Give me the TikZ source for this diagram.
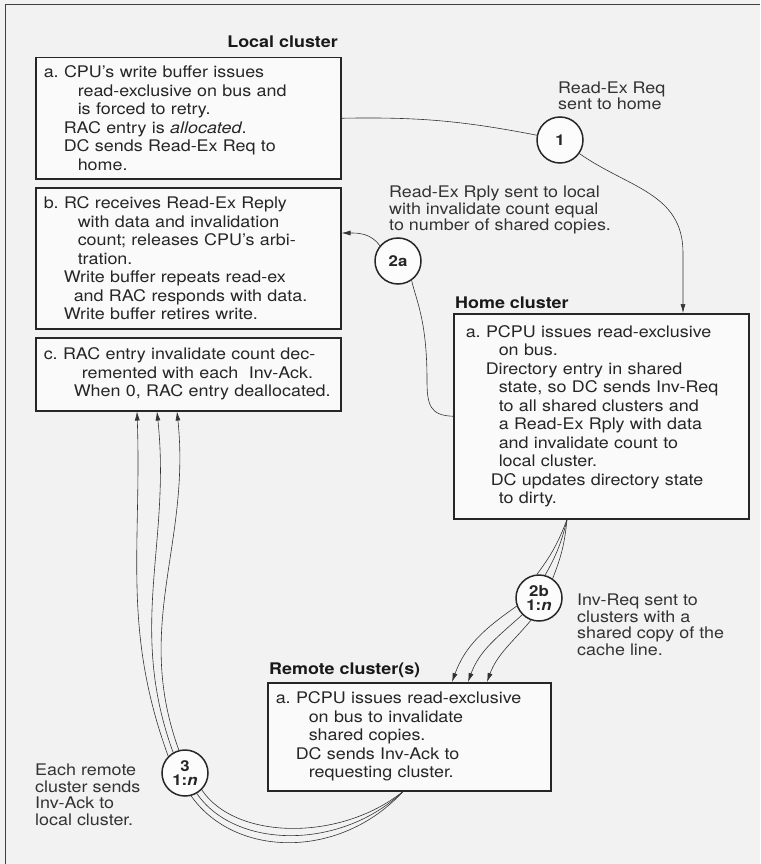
\documentclass[tikz,border=0pt]{standalone}
\usepackage{fontspec}
\setmainfont{TeX Gyre Heros}[FakeStretch=1.12]
\usetikzlibrary{arrows.meta,calc,positioning}

% indents inside the cluster boxes
\newcommand{\subind}{\hspace*{20pt}}
\newcommand{\contind}{\hspace*{34pt}}

\tikzset{
  cluster/.style={draw=black!85, line width=1.5pt, fill=gray!4, anchor=north west,
    align=left, inner xsep=8pt, inner ysep=0pt, text=black!85,
    font=\fontsize{16}{18.5}\selectfont},
  cltitle/.style={inner sep=0pt, text=black!90, font=\fontsize{16}{18.5}\selectfont\bfseries},
  annot/.style={align=left, anchor=west, inner sep=0pt, text=black!80,
    font=\fontsize{16}{16.5}\selectfont},
  msg/.style={circle, draw=black!85, line width=1.5pt, fill=gray!2, minimum size=46pt,
    inner sep=0pt, align=center, text=black!85, font=\fontsize{15}{14}\selectfont\bfseries},
  wire/.style={draw=black!80, line width=0.6pt},
  arr/.style={wire, -{Latex[length=9pt,width=5pt]}}
}

\begin{document}
\begin{tikzpicture}[x=1pt,y=1pt]

    % background and frame
    \fill[gray!10] (0,0) rectangle (760,-864);
    \useasboundingbox (0,0) rectangle (760,-864);
    \draw[black!75, line width=1pt] (760,-5) -- (5,-5) -- (5,-864);

    % Local cluster
    \node[cltitle, anchor=east] (loclab) at (338,-42) {Local cluster};
    \node[cluster, text width=289pt, minimum height=121pt] (la) at (35,-57)
      {a.\ CPU's write buffer issues\\
       \contind read-exclusive on bus and\\
       \contind is forced to retry.\\
       \subind RAC entry is \textit{allocated}.\\
       \subind DC sends Read-Ex Req to\\
       \contind home.};
    \node[cluster, text width=289pt, minimum height=141pt] (lb) at (35,-187)
      {b.\ RC receives Read-Ex Reply\\
       \contind with data and invalidation\\
       \contind count; releases CPU's arbi-\\
       \contind tration.\\
       \subind Write buffer repeats read-ex\\
       \hspace*{30pt}and RAC responds with data.\\
       \subind Write buffer retires write.};
    \node[cluster, text width=289pt, minimum height=73pt] (lc) at (35,-337)
      {c.\ RAC entry invalidate count dec-\\
       \hspace*{38pt}remented with each\ \ Inv-Ack.\\
       \hspace*{30pt}When 0, RAC entry deallocated.};

    % Home cluster
    \node[cltitle, anchor=west] (homelab) at (455,-303) {Home cluster};
    \node[cluster, text width=271pt, inner xsep=12pt, minimum height=205pt] (home) at (453,-313)
      {a.\ PCPU issues read-exclusive\\
       \hspace*{33pt}on bus.\\
       \subind Directory entry in shared\\
       \hspace*{33pt}state, so DC sends Inv-Req\\
       \hspace*{33pt}to all shared clusters and\\
       \hspace*{33pt}a Read-Ex Rply with data\\
       \hspace*{33pt}and invalidate count to\\
       \hspace*{33pt}local cluster.\\
       \hspace*{25pt}DC updates directory state\\
       \hspace*{33pt}to dirty.};

    % Remote cluster(s)
    \node[cltitle, anchor=west] (remlab) at (269,-670) {Remote cluster(s)};
    \node[cluster, text width=267pt, minimum height=108pt] (remote) at (267,-682)
      {a.\ PCPU issues read-exclusive\\
       \hspace*{33pt}on bus to invalidate\\
       \hspace*{33pt}shared copies.\\
       \subind DC sends Inv-Ack to\\
       \hspace*{33pt}requesting cluster.};

    % message circles
    \node[msg] (c1) at (560,-140) {1};
    \node[msg] (c2a) at (398,-261) {2a};
    \node[msg] (c2b) at (539,-598) {2b\\1:\textit{n}};
    \node[msg] (c3) at (185,-773) {3\\1:\textit{n}};

    % notes beside the messages
    \node[annot] (n1) at (558,-96) {Read-Ex Req\\sent to home};
    \node[annot] (n2a) at (389,-210) {Read-Ex Rply sent to local\\with invalidate count equal\\to number of shared copies.};
    \node[annot] (n2b) at (577,-625) {Inv-Req sent to\\clusters with a\\shared copy of the\\cache line.};
    \node[annot] (n3) at (35,-795) {Each remote\\cluster sends\\Inv-Ack to\\local cluster.};

    % 1: request to home
    \coordinate (hin) at ($(home.north west)+(230,0)$);
    \draw[wire] (la.east) to[bend left=6] (c1);
    \draw[arr] (c1.-35) .. controls +(-35:60) and ($(hin)+(0,120)$) .. ($(hin)+(0,60)$) -- (hin);

    % 2a: reply to local
    \coordinate (bin) at ($(lb.north east)+(0,-46)$);
    \draw[wire] (home.west) .. controls (430,-415.5) and (427,-405) .. (427,-380)
      .. controls (427,-320) and (416,-300) .. (c2a.-55);
    \draw[arr] (c2a.140) to[out=125, in=0] (bin);

    % 2b: invalidations to the remote clusters
    \coordinate (hout) at ($(home.south west)+(114,0)$);
    \foreach \a in {95,75,55}
        \draw[wire] (hout) to[bend left=8] (c2b.\a);
    \foreach \a/\o/\dx in {200/215/185, 225/222/201, 250/230/220}
        \draw[arr] (c2b.\a) to[out=\o, in=70] ($(remote.north west)+(\dx,0)$);

    % 3: acks back to local
    \coordinate (rout) at ($(remote.south west)+(136,0)$);
    \foreach \a/\y in {-75/860, -60/851, -45/842}
        \draw[wire] (rout) .. controls (340,-\y) and (235,-\y+2) .. (c3.\a);
    \foreach \a/\dx/\i in {135/102/-88, 120/122/-84, 105/142/-84}
        \draw[arr] (c3.\a) to[out=110, in=\i] ($(lc.south west)+(\dx,0)$);

\end{tikzpicture}
\end{document}
